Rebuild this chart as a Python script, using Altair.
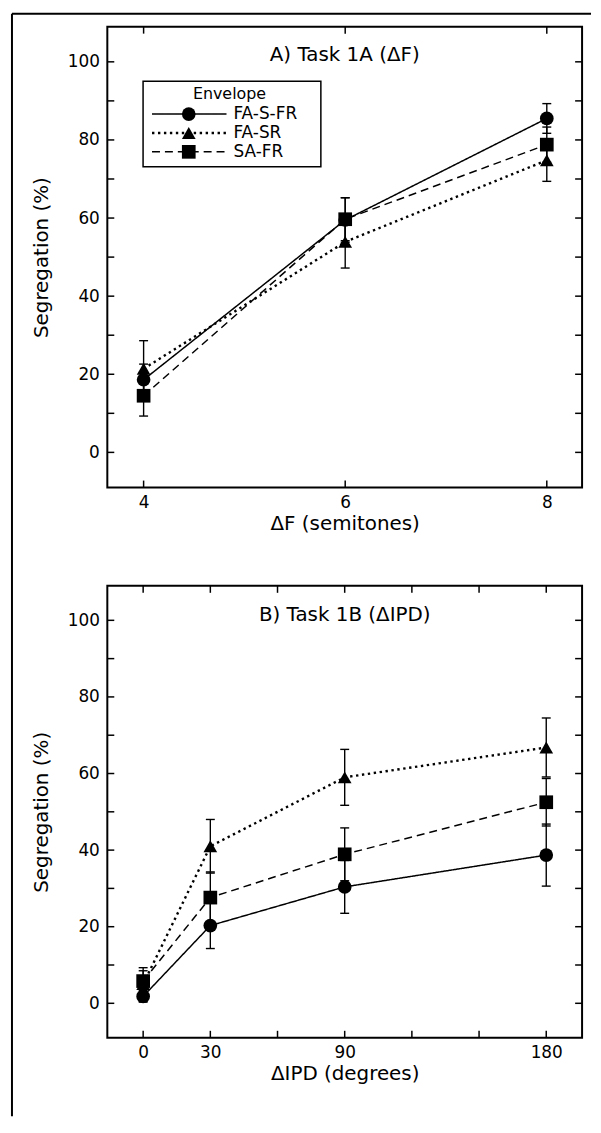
import altair as alt
import pandas as pd

series = ["FA-S-FR", "FA-SR", "SA-FR"]
shapes = ["circle", "triangle-up", "square"]
dashes = [[1, 0], [2.4, 3.6], [8, 5]]
widths = [1.5, 2.4, 1.5]

# Panel A: Task 1A (ΔF)
xa = [4, 6, 8]
ya = {
    "FA-S-FR": [18.6, 59.5, 85.5],
    "FA-SR": [21.4, 53.9, 74.8],
    "SA-FR": [14.5, 59.7, 78.8],
}
ea = {
    "FA-S-FR": [4.0, 5.7, 3.8],
    "FA-SR": [7.2, 6.7, 5.4],
    "SA-FR": [5.2, 5.5, 4.5],
}

# Panel B: Task 1B (ΔIPD)
xb = [0, 30, 90, 180]
yb = {
    "FA-S-FR": [1.8, 20.3, 30.4, 38.7],
    "FA-SR": [5.0, 41.0, 59.0, 66.8],
    "SA-FR": [5.8, 27.6, 38.9, 52.5],
}
eb = {
    "FA-S-FR": [1.5, 6.0, 6.9, 8.1],
    "FA-SR": [3.5, 7.0, 7.3, 7.7],
    "SA-FR": [3.5, 6.7, 6.9, 6.2],
}

y_ticks = [0, 10, 20, 30, 40, 50, 60, 70, 80, 90, 100]
y_labels = [0, 20, 40, 60, 80, 100]
xa_ticks = [4, 6, 8]
xb_ticks = [0, 30, 60, 90, 120, 150, 180]
xb_labels = [0, 30, 90, 180]

W = 478
HA = 464
HB = 455
TK = 7
FONT = "DejaVu Sans"


def long_df(xs, ys, es):
    rows = []
    for s in series:
        for x, y, e in zip(xs, ys[s], es[s]):
            rows.append({"x": x, "y": y, "lo": y - e, "hi": y + e, "series": s})
    return pd.DataFrame(rows)


def panel(df, xdomain, xticks, xlabels, xtitle, title, H, legend=False, border=False):
    xs = alt.Scale(domain=xdomain, nice=False, zero=False)
    ys = alt.Scale(domain=[-9, 109], nice=False, zero=False)
    xaxis = alt.Axis(values=xlabels, ticks=False, domain=False, grid=False,
                     labelPadding=7, title=xtitle, titlePadding=3, format="d")
    yaxis = alt.Axis(values=y_labels, ticks=False, domain=False, grid=False,
                     labelPadding=8, title="Segregation (%)", titlePadding=16, format="d")

    def X(f):
        return alt.X(f, type="quantitative", scale=xs, axis=xaxis)

    def Y(f):
        return alt.Y(f, type="quantitative", scale=ys, axis=yaxis)

    one = alt.Chart(pd.DataFrame({"k": [0]}))
    ytdf = pd.DataFrame({"v": y_ticks})
    xtdf = pd.DataFrame({"v": xticks})
    base_y = alt.Chart(ytdf)
    base_x = alt.Chart(xtdf)
    tick_style = dict(color="black", strokeWidth=1.5)
    layers = [
        base_y.mark_rule(**tick_style).encode(y=Y("v"), x=alt.value(0), x2=alt.value(TK)),
        base_y.mark_rule(**tick_style).encode(y=Y("v"), x=alt.value(W - TK), x2=alt.value(W)),
        base_x.mark_rule(**tick_style).encode(x=X("v"), y=alt.value(H - TK), y2=alt.value(H)),
        base_x.mark_rule(**tick_style).encode(x=X("v"), y=alt.value(0), y2=alt.value(TK)),
    ]
    base = alt.Chart(df)
    layers += [
        base.mark_rule(color="black", strokeWidth=1.4).encode(x=X("x"), y=Y("lo"), y2="hi"),
        base.mark_tick(color="black", orient="horizontal", size=9, thickness=1.4, opacity=1).encode(x=X("x"), y=Y("lo")),
        base.mark_tick(color="black", orient="horizontal", size=9, thickness=1.4, opacity=1).encode(x=X("x"), y=Y("hi")),
    ]
    for i, s in enumerate(series):
        layers.append(
            base.transform_filter(alt.datum.series == s)
            .mark_line(color="black", strokeWidth=widths[i], strokeDash=dashes[i])
            .encode(x=X("x"), y=Y("y"))
        )
    for i, s in enumerate(series):
        layers.append(
            base.transform_filter(alt.datum.series == s)
            .mark_point(filled=True, color="black", opacity=1, size=190, shape=shapes[i])
            .encode(x=X("x"), y=Y("y"))
        )
    layers.append(one.mark_text(text=title, font=FONT, fontSize=20, color="black", baseline="middle").encode(
        x=alt.value(W / 2), y=alt.value(29)))
    if legend:
        layers.append(one.mark_rect(fill="white", stroke="black", strokeWidth=1.5).encode(
            x=alt.value(36), x2=alt.value(215), y=alt.value(55), y2=alt.value(141)))
        layers.append(one.mark_text(text="Envelope", font=FONT, fontSize=16, color="black",
                                    baseline="middle", align="center").encode(
            x=alt.value(123), y=alt.value(68)))
        for i, s in enumerate(series):
            yy = 88 + 19 * i
            layers.append(one.mark_rule(color="black", strokeWidth=widths[i], strokeDash=dashes[i]).encode(
                x=alt.value(45), x2=alt.value(120), y=alt.value(yy)))
            layers.append(one.mark_point(filled=True, color="black", opacity=1, size=190, shape=shapes[i]).encode(
                x=alt.value(82), y=alt.value(yy)))
            layers.append(one.mark_text(text=s, font=FONT, fontSize=17, color="black",
                                        baseline="middle", align="left").encode(
                x=alt.value(127), y=alt.value(yy)))
    if border:
        layers.append(one.mark_rule(color="black", strokeWidth=2).encode(
            x=alt.value(-96), x2=alt.value(487), y=alt.value(-13)))
        layers.append(one.mark_rule(color="black", strokeWidth=2).encode(
            x=alt.value(-96), y=alt.value(-13), y2=alt.value(1097)))
    return alt.layer(*layers).properties(width=W, height=H)


pa = panel(long_df(xa, ya, ea), [3.64, 8.35], xa_ticks, xa_ticks, "ΔF (semitones)",
           "A) Task 1A (ΔF)", HA, legend=True, border=True)
pb = panel(long_df(xb, yb, eb), [-16, 196], xb_ticks, xb_labels, "ΔIPD (degrees)",
           "B) Task 1B (ΔIPD)", HB)

chart = alt.vconcat(pa, pb, spacing=99, bounds="flush").properties(
    padding={"left": 2, "top": 0, "right": 0, "bottom": 0}
).configure_view(
    stroke="black", strokeWidth=2
).configure_axis(
    labelFont=FONT, labelFontSize=17, labelColor="black",
    titleFont=FONT, titleFontSize=20, titleFontWeight="normal", titleColor="black"
)

chart.save("out.html", embed_options={"renderer": "svg", "actions": False})
